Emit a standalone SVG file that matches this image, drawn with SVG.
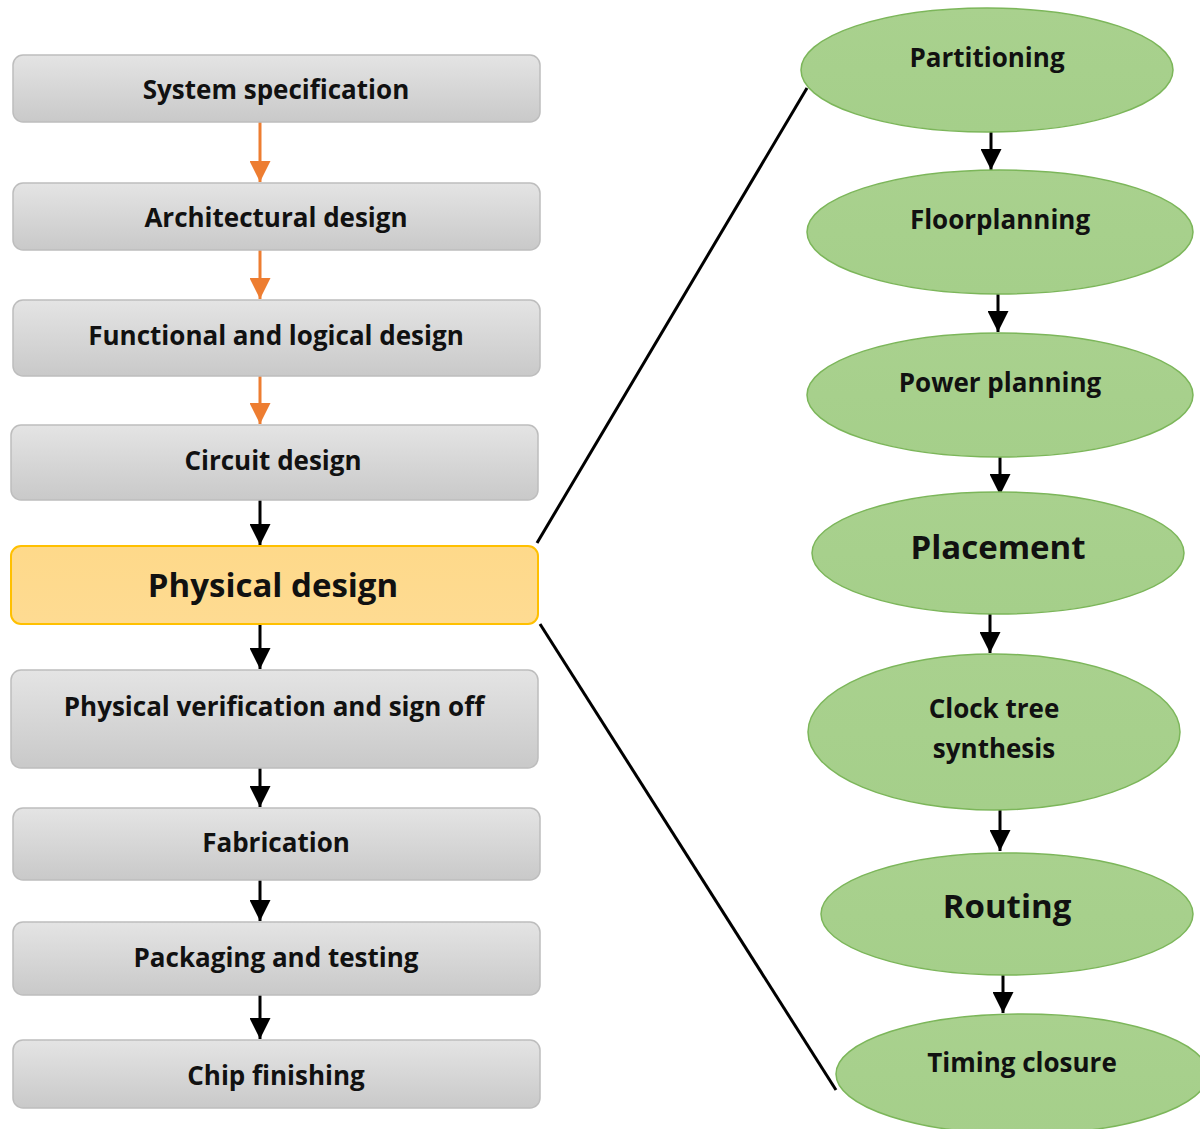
<svg xmlns="http://www.w3.org/2000/svg" width="1200" height="1129" viewBox="0 0 1200 1129">
<style>
.box{fill:url(#gray);stroke:#bdbdbd;stroke-width:1.5}
.ybox{fill:url(#yel);stroke:#ffc000;stroke-width:2}
.ell{fill:url(#grn);stroke:#7cb65a;stroke-width:1.5}
text{font-family:"Open Sans","Liberation Sans",sans-serif;font-weight:bold;fill:#111;text-anchor:middle;dominant-baseline:central}
.t{font-size:26px}
.big{font-size:33px}
.oa{stroke:#ed7d31;stroke-width:3;marker-end:url(#ah-o)}
.ba{stroke:#000;stroke-width:3;marker-end:url(#ah-b)}
.ln{stroke:#000;stroke-width:3;fill:none}
</style>
<defs>
<linearGradient id="gray" x1="0" y1="0" x2="0" y2="1"><stop offset="0" stop-color="#e4e4e4"/><stop offset="1" stop-color="#c9c9c9"/></linearGradient>
<linearGradient id="yel" x1="0" y1="0" x2="0" y2="1"><stop offset="0" stop-color="#fed98a"/><stop offset="1" stop-color="#fedb92"/></linearGradient>
<linearGradient id="grn" x1="0" y1="0" x2="0" y2="1"><stop offset="0" stop-color="#a9d18e"/><stop offset="1" stop-color="#a5cf8a"/></linearGradient>
<marker id="ah-o" viewBox="0 0 10 10" refX="10" refY="5" markerWidth="7" markerHeight="7" orient="auto"><path d="M0,0 L10,5 L0,10 z" fill="#ed7d31"/></marker>
<marker id="ah-b" viewBox="0 0 10 10" refX="10" refY="5" markerWidth="7" markerHeight="7" orient="auto"><path d="M0,0 L10,5 L0,10 z" fill="#000"/></marker>
</defs>
<g id="connectors">
<line class="oa" x1="260" y1="122" x2="260" y2="182"/>
<line class="oa" x1="260" y1="250" x2="260" y2="299"/>
<line class="oa" x1="260" y1="376" x2="260" y2="424"/>
<line class="ba" x1="260" y1="500" x2="260" y2="545"/>
<line class="ba" x1="260" y1="624" x2="260" y2="669"/>
<line class="ba" x1="260" y1="768" x2="260" y2="807"/>
<line class="ba" x1="260" y1="880" x2="260" y2="921"/>
<line class="ba" x1="260" y1="995" x2="260" y2="1039"/>
<line class="ba" x1="991" y1="132" x2="991" y2="170"/>
<line class="ba" x1="998" y1="294" x2="998" y2="332"/>
<line class="ba" x1="1000" y1="457" x2="1000" y2="495"/>
<line class="ba" x1="990" y1="614" x2="990" y2="653"/>
<line class="ba" x1="1000" y1="810" x2="1000" y2="851"/>
<line class="ba" x1="1003" y1="975" x2="1003" y2="1013"/>
<line class="ln" x1="537" y1="543" x2="807" y2="88"/>
<line class="ln" x1="540" y1="624" x2="836" y2="1090"/>
</g>
<g id="n1"><rect class="box" x="13" y="55" width="527" height="67" rx="10"/><text class="t" x="276" y="89">System specification</text></g>
<g id="n2"><rect class="box" x="13" y="183" width="527" height="67" rx="10"/><text class="t" x="276" y="217">Architectural design</text></g>
<g id="n3"><rect class="box" x="13" y="300" width="527" height="76" rx="10"/><text class="t" x="276" y="335">Functional and logical design</text></g>
<g id="n4"><rect class="box" x="11" y="425" width="527" height="75" rx="10"/><text class="t" x="273" y="460">Circuit design</text></g>
<g id="n5"><rect class="ybox" x="11" y="546" width="527" height="78" rx="10"/><text class="big" x="273" y="584">Physical design</text></g>
<g id="n6"><rect class="box" x="11" y="670" width="527" height="98" rx="10"/><text class="t" x="274" y="706">Physical verification and sign off</text></g>
<g id="n7"><rect class="box" x="13" y="808" width="527" height="72" rx="10"/><text class="t" x="276" y="842">Fabrication</text></g>
<g id="n8"><rect class="box" x="13" y="922" width="527" height="73" rx="10"/><text class="t" x="276" y="957">Packaging and testing</text></g>
<g id="n9"><rect class="box" x="13" y="1040" width="527" height="68" rx="10"/><text class="t" x="276" y="1075">Chip finishing</text></g>
<g id="e1"><ellipse class="ell" cx="987" cy="70" rx="186" ry="62"/><text class="t" x="987" y="57">Partitioning</text></g>
<g id="e2"><ellipse class="ell" cx="1000" cy="232" rx="193" ry="62"/><text class="t" x="1000" y="219">Floorplanning</text></g>
<g id="e3"><ellipse class="ell" cx="1000" cy="395" rx="193" ry="62"/><text class="t" x="1000" y="382">Power planning</text></g>
<g id="e4"><ellipse class="ell" cx="998" cy="553" rx="186" ry="61"/><text class="big" x="998" y="546">Placement</text></g>
<g id="e5"><ellipse class="ell" cx="994" cy="732" rx="186" ry="78"/><text class="t" x="994" y="708">Clock tree</text><text class="t" x="994" y="748">synthesis</text></g>
<g id="e6"><ellipse class="ell" cx="1007" cy="914" rx="186" ry="61"/><text class="big" x="1007" y="905">Routing</text></g>
<g id="e7"><ellipse class="ell" cx="1022" cy="1074" rx="186" ry="60"/><text class="t" x="1022" y="1062">Timing closure</text></g>
</svg>
